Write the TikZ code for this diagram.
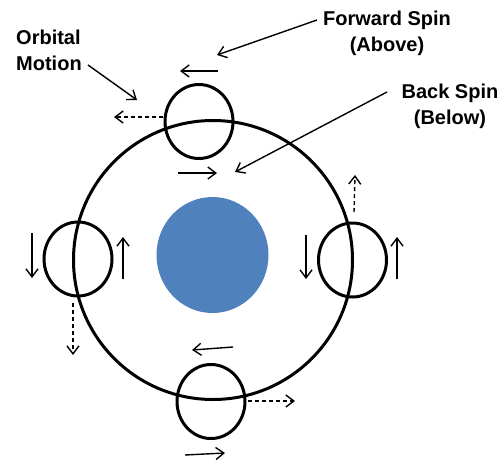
\documentclass[tikz,border=0pt]{standalone}
\usepackage{fontspec}
\setmainfont{Liberation Sans}
\usetikzlibrary{arrows.meta,shapes.geometric}
\definecolor{sunblue}{RGB}{79,129,189}
\begin{document}
\begin{tikzpicture}[x=1pt,y=-1pt,
  orbit/.style={draw,line width=3pt,circle,minimum size=279pt,inner sep=0pt},
  ball/.style={draw,line width=3pt,ellipse,minimum width=68pt,minimum height=74pt,inner sep=0pt},
  spin/.style={line width=1.4pt,-{Straight Barb[length=8pt,width=12pt]}},
  motion/.style={spin,dash pattern=on 4pt off 3pt},
  pointer/.style={line width=1.4pt,-{Straight Barb[length=8pt,width=12pt]}},
  lbl/.style={font=\bfseries\fontsize{20}{26}\selectfont,inner sep=0pt}]
\useasboundingbox (0,0) rectangle (500,461);
% central body and orbit
\node[ellipse,fill=sunblue,minimum width=112pt,minimum height=116pt,inner sep=0pt] (sun) at (212.5,255) {};
\node[orbit] (orbit) at (213,260) {};
% balls
\node[ball] (top) at (199,121.5) {};
\node[ball] (left) at (78,259) {};
\node[ball] (right) at (352.5,260) {};
\node[ball] (bottom) at (211,401.5) {};
% spin arrows
\coordinate (t1a) at (218,71);  \coordinate (t1b) at (180,71);
\coordinate (t2a) at (178,173); \coordinate (t2b) at (217,173);
\coordinate (l1a) at (32,233);  \coordinate (l1b) at (32,278);
\coordinate (l2a) at (123,279); \coordinate (l2b) at (123,237);
\coordinate (r1a) at (306,235); \coordinate (r1b) at (306,279);
\coordinate (r2a) at (397,279); \coordinate (r2b) at (397,237);
\coordinate (b1a) at (233,347); \coordinate (b1b) at (192,350);
\coordinate (b2a) at (185,455); \coordinate (b2b) at (225,453);
\draw[spin] (t1a) -- (t1b);
\draw[spin] (t2a) -- (t2b);
\draw[spin] (l1a) -- (l1b);
\draw[spin] (l2a) -- (l2b);
\draw[spin] (r1a) -- (r1b);
\draw[spin] (r2a) -- (r2b);
\draw[spin] (b1a) -- (b1b);
\draw[spin] (b2a) -- (b2b);
% orbital motion arrows
\coordinate (tm1) at (163,117); \coordinate (tm) at (114,117);
\coordinate (lm1) at (73,303); \coordinate (lm) at (73,355);
\coordinate (rm1) at (354,212); \coordinate (rm) at (355,175);
\coordinate (bm1) at (248,401); \coordinate (bm) at (295,401);
\draw[motion] (tm1) -- (tm);
\draw[motion] (lm1) -- (lm);
\draw[motion] (rm1) -- (rm);
\draw[motion] (bm1) -- (bm);
% labels
\node[lbl,anchor=west,align=left] (om) at (16,50.5) {Orbital\\Motion};
\node[lbl,align=center] (fs) at (387,33) {Forward Spin\\(Above)};
\node[lbl,align=center] (bs) at (450,106) {Back Spin\\(Below)};
\coordinate (omT) at (88,65);  \coordinate (omH) at (137,100);
\coordinate (fsT) at (317,20); \coordinate (fsH) at (217,55);
\coordinate (bsT) at (387,92); \coordinate (bsH) at (235,172);
\draw[pointer] (omT) -- (omH);
\draw[pointer] (fsT) -- (fsH);
\draw[pointer] (bsT) -- (bsH);
\end{tikzpicture}
\end{document}
